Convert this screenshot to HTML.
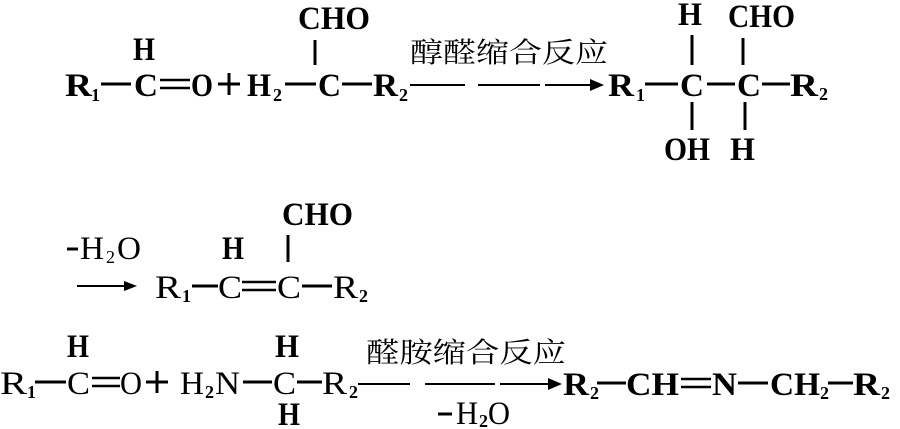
<!DOCTYPE html>
<html><head><meta charset="utf-8"><style>
html,body{margin:0;padding:0;background:#fff;}
svg{display:block}
text{font-family:"Liberation Serif","Noto Serif CJK SC",serif;fill:#000;}
.b{font-weight:bold;font-size:33px}
.s{font-size:18px;font-weight:bold}
.c{font-family:"Liberation Serif","Noto Serif CJK SC",serif;font-size:28px}
line{stroke:#000;stroke-width:3}
</style></head><body>
<svg width="900" height="429" viewBox="0 0 900 429" xmlns="http://www.w3.org/2000/svg">
<!-- Row 1 -->
<text class="b" x="298" y="29" textLength="72" lengthAdjust="spacingAndGlyphs">CHO</text>
<line x1="315" y1="40" x2="315" y2="65"/>
<text class="b" x="133" y="60" textLength="22" lengthAdjust="spacingAndGlyphs">H</text>
<text class="b" x="65" y="96" textLength="27" lengthAdjust="spacingAndGlyphs">R</text><text class="s" x="91" y="101">1</text>
<line x1="101" y1="84" x2="131" y2="84"/>
<text class="b" x="134" y="96" textLength="24" lengthAdjust="spacingAndGlyphs">C</text>
<line x1="160" y1="80" x2="190" y2="80" style="stroke-width:2.5"/><line x1="160" y1="88" x2="190" y2="88" style="stroke-width:2.5"/>
<text class="b" x="191" y="96" textLength="22" lengthAdjust="spacingAndGlyphs">O</text>
<line x1="218" y1="84" x2="240" y2="84"/><line x1="229" y1="73" x2="229" y2="95"/>
<text class="b" x="247" y="96" textLength="24" lengthAdjust="spacingAndGlyphs">H</text><text class="s" x="273" y="101">2</text>
<line x1="285" y1="84" x2="316" y2="84"/>
<text class="b" x="318" y="96" textLength="23" lengthAdjust="spacingAndGlyphs">C</text>
<line x1="342" y1="84" x2="372" y2="84"/>
<text class="b" x="373" y="96" textLength="25" lengthAdjust="spacingAndGlyphs">R</text><text class="s" x="399" y="101">2</text>
<text class="c" x="410" y="62" textLength="198" lengthAdjust="spacingAndGlyphs">醇醛缩合反应</text>
<line x1="410" y1="85" x2="465" y2="85" style="stroke-width:2"/>
<line x1="478" y1="85" x2="540" y2="85" style="stroke-width:2"/>
<line x1="545" y1="85" x2="600" y2="85" style="stroke-width:2"/>
<path d="M590 79 L604 85 L590 91 Z"/>
<text class="b" x="608" y="96" textLength="26" lengthAdjust="spacingAndGlyphs">R</text><text class="s" x="636" y="101">1</text>
<line x1="645" y1="84" x2="678" y2="84"/>
<text class="b" x="680" y="96" textLength="24" lengthAdjust="spacingAndGlyphs">C</text>
<line x1="707" y1="84" x2="735" y2="84"/>
<text class="b" x="737" y="96" textLength="24" lengthAdjust="spacingAndGlyphs">C</text>
<line x1="762" y1="84" x2="790" y2="84"/>
<text class="b" x="790" y="96" textLength="28" lengthAdjust="spacingAndGlyphs">R</text><text class="s" x="819" y="100">2</text>
<text class="b" x="678" y="25" textLength="24" lengthAdjust="spacingAndGlyphs">H</text>
<text class="b" x="728" y="27" textLength="67" lengthAdjust="spacingAndGlyphs">CHO</text>
<line x1="692" y1="35" x2="692" y2="65"/><line x1="743" y1="38" x2="743" y2="65"/>
<line x1="692" y1="102" x2="692" y2="130"/><line x1="745" y1="102" x2="745" y2="130"/>
<text class="b" x="664" y="160" textLength="46" lengthAdjust="spacingAndGlyphs">OH</text>
<text class="b" x="730" y="160" textLength="25" lengthAdjust="spacingAndGlyphs">H</text>
<!-- Row 2 -->
<line x1="67" y1="249" x2="78" y2="249"/>
<text class="b" x="80" y="259" style="font-weight:normal" textLength="24" lengthAdjust="spacingAndGlyphs">H</text><text class="s" x="106" y="263" style="font-weight:normal">2</text>
<text class="b" x="117" y="259" style="font-weight:normal" textLength="24" lengthAdjust="spacingAndGlyphs">O</text>
<line x1="77" y1="286" x2="132" y2="286" style="stroke-width:2"/><path d="M124 281 L137 286 L124 291 Z"/>
<text class="b" x="222" y="259" textLength="22" lengthAdjust="spacingAndGlyphs">H</text>
<text class="b" x="282" y="225" textLength="71" lengthAdjust="spacingAndGlyphs">CHO</text>
<line x1="288" y1="235" x2="288" y2="262"/>
<text class="b" x="155" y="298" style="font-weight:normal" textLength="26" lengthAdjust="spacingAndGlyphs">R</text><text class="s" x="182" y="302">1</text>
<line x1="192" y1="286" x2="218" y2="286"/>
<text class="b" x="218" y="298" style="font-weight:normal" textLength="24" lengthAdjust="spacingAndGlyphs">C</text>
<line x1="242" y1="282" x2="276" y2="282" style="stroke-width:2.5"/><line x1="242" y1="290" x2="276" y2="290" style="stroke-width:2.5"/>
<text class="b" x="277" y="298" style="font-weight:normal" textLength="24" lengthAdjust="spacingAndGlyphs">C</text>
<line x1="302" y1="286" x2="332" y2="286"/>
<text class="b" x="333" y="298" style="font-weight:normal" textLength="25" lengthAdjust="spacingAndGlyphs">R</text><text class="s" x="359" y="302">2</text>
<!-- Row 3 -->
<text class="b" x="67" y="357" textLength="22" lengthAdjust="spacingAndGlyphs">H</text>
<text class="b" x="275" y="357" textLength="24" lengthAdjust="spacingAndGlyphs">H</text>
<text class="b" x="278" y="425" textLength="22" lengthAdjust="spacingAndGlyphs">H</text>
<text class="b" x="0" y="394" style="font-weight:normal" textLength="27" lengthAdjust="spacingAndGlyphs">R</text><text class="s" x="27" y="398">1</text>
<line x1="35" y1="382" x2="66" y2="382"/>
<text class="b" x="67" y="394" style="font-weight:normal" textLength="23" lengthAdjust="spacingAndGlyphs">C</text>
<line x1="92" y1="378" x2="120" y2="378" style="stroke-width:2.5"/><line x1="92" y1="386" x2="120" y2="386" style="stroke-width:2.5"/>
<text class="b" x="120" y="394" style="font-weight:normal" textLength="22" lengthAdjust="spacingAndGlyphs">O</text>
<line x1="146" y1="382" x2="168" y2="382"/><line x1="157" y1="371" x2="157" y2="393"/>
<text class="b" x="180" y="394" style="font-weight:normal" textLength="24" lengthAdjust="spacingAndGlyphs">H</text><text class="s" x="205" y="398">2</text>
<text class="b" x="215" y="394" style="font-weight:normal" textLength="25" lengthAdjust="spacingAndGlyphs">N</text>
<line x1="243" y1="382" x2="272" y2="382"/>
<text class="b" x="273" y="394" style="font-weight:normal" textLength="23" lengthAdjust="spacingAndGlyphs">C</text>
<line x1="297" y1="382" x2="322" y2="382"/>
<text class="b" x="322" y="394" style="font-weight:normal" textLength="25" lengthAdjust="spacingAndGlyphs">R</text><text class="s" x="349" y="398">2</text>
<text class="c" x="366" y="362" textLength="200" lengthAdjust="spacingAndGlyphs">醛胺缩合反应</text>
<line x1="358" y1="384" x2="410" y2="384" style="stroke-width:2"/>
<line x1="425" y1="384" x2="495" y2="384" style="stroke-width:2"/>
<line x1="500" y1="384" x2="556" y2="384" style="stroke-width:2"/>
<path d="M548 378 L562 384 L548 390 Z"/>
<line x1="438" y1="414" x2="452" y2="414"/>
<text class="b" x="456" y="424" style="font-weight:normal" textLength="22" lengthAdjust="spacingAndGlyphs">H</text><text class="s" x="479" y="427">2</text>
<text class="b" x="488" y="424" style="font-weight:normal" textLength="22" lengthAdjust="spacingAndGlyphs">O</text>
<text class="b" x="563" y="395" textLength="26" lengthAdjust="spacingAndGlyphs">R</text><text class="s" x="590" y="399">2</text>
<line x1="597" y1="383" x2="626" y2="383"/>
<text class="b" x="626" y="395" textLength="53" lengthAdjust="spacingAndGlyphs">CH</text>
<line x1="681" y1="379" x2="711" y2="379" style="stroke-width:2.5"/><line x1="681" y1="387" x2="711" y2="387" style="stroke-width:2.5"/>
<text class="b" x="712" y="395" textLength="25" lengthAdjust="spacingAndGlyphs">N</text>
<line x1="738" y1="383" x2="768" y2="383"/>
<text class="b" x="770" y="395" textLength="50" lengthAdjust="spacingAndGlyphs">CH</text><text class="s" x="820" y="399">2</text>
<line x1="828" y1="383" x2="853" y2="383"/>
<text class="b" x="853" y="395" textLength="27" lengthAdjust="spacingAndGlyphs">R</text><text class="s" x="881" y="399">2</text>
</svg>
</body></html>
